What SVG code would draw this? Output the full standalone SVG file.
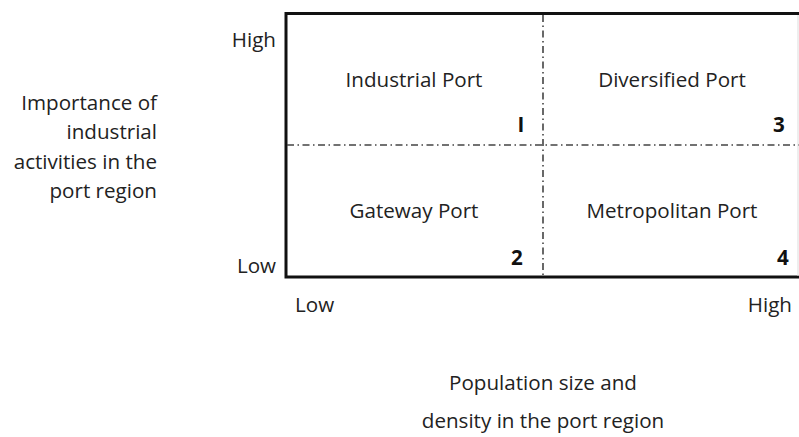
<svg xmlns="http://www.w3.org/2000/svg" width="799" height="437" viewBox="0 0 799 437">
<style>
text{font-family:"Open Sans","Noto Sans","Liberation Sans",sans-serif;font-size:20.6px;fill:#222}
.num{font-weight:bold;fill:#111}
.r{text-anchor:end}
.m{text-anchor:middle}
.border{fill:none;stroke:#111;stroke-width:3}
.div{stroke:#444;stroke-width:1.6;stroke-dasharray:7 3.5 1.5 3.5;fill:none}
</style>
<rect width="799" height="437" fill="#fff"/>
<g id="frame">
<path class="border" d="M801 13.5 H286 V277 H801"/>
<line x1="798" y1="15" x2="798" y2="276" stroke="#ddd" stroke-width="1"/>
</g>
<g id="connectors">
<line class="div" x1="543" y1="15" x2="543" y2="276"/>
<line class="div" x1="287" y1="145" x2="799" y2="145"/>
</g>
<g id="y-axis">
<text class="r" x="276" y="47">High</text>
<text class="r" x="276" y="273">Low</text>
<text class="r" x="157" y="110">Importance of</text>
<text class="r" x="157" y="139">industrial</text>
<text class="r" x="157" y="169">activities in the</text>
<text class="r" x="157" y="198">port region</text>
</g>
<g id="q1"><text class="m" x="414" y="87">Industrial Port</text><text class="num m" x="521" y="132">I</text></g>
<g id="q3"><text class="m" x="672" y="87">Diversified Port</text><text class="num m" x="779" y="132">3</text></g>
<g id="q2"><text class="m" x="414" y="218">Gateway Port</text><text class="num m" x="517" y="265">2</text></g>
<g id="q4"><text class="m" x="672" y="218">Metropolitan Port</text><text class="num m" x="783" y="265">4</text></g>
<g id="x-axis">
<text x="295" y="312">Low</text>
<text class="r" x="792" y="312">High</text>
<text class="m" x="543" y="390">Population size and</text>
<text class="m" x="543" y="428">density in the port region</text>
</g>
</svg>
